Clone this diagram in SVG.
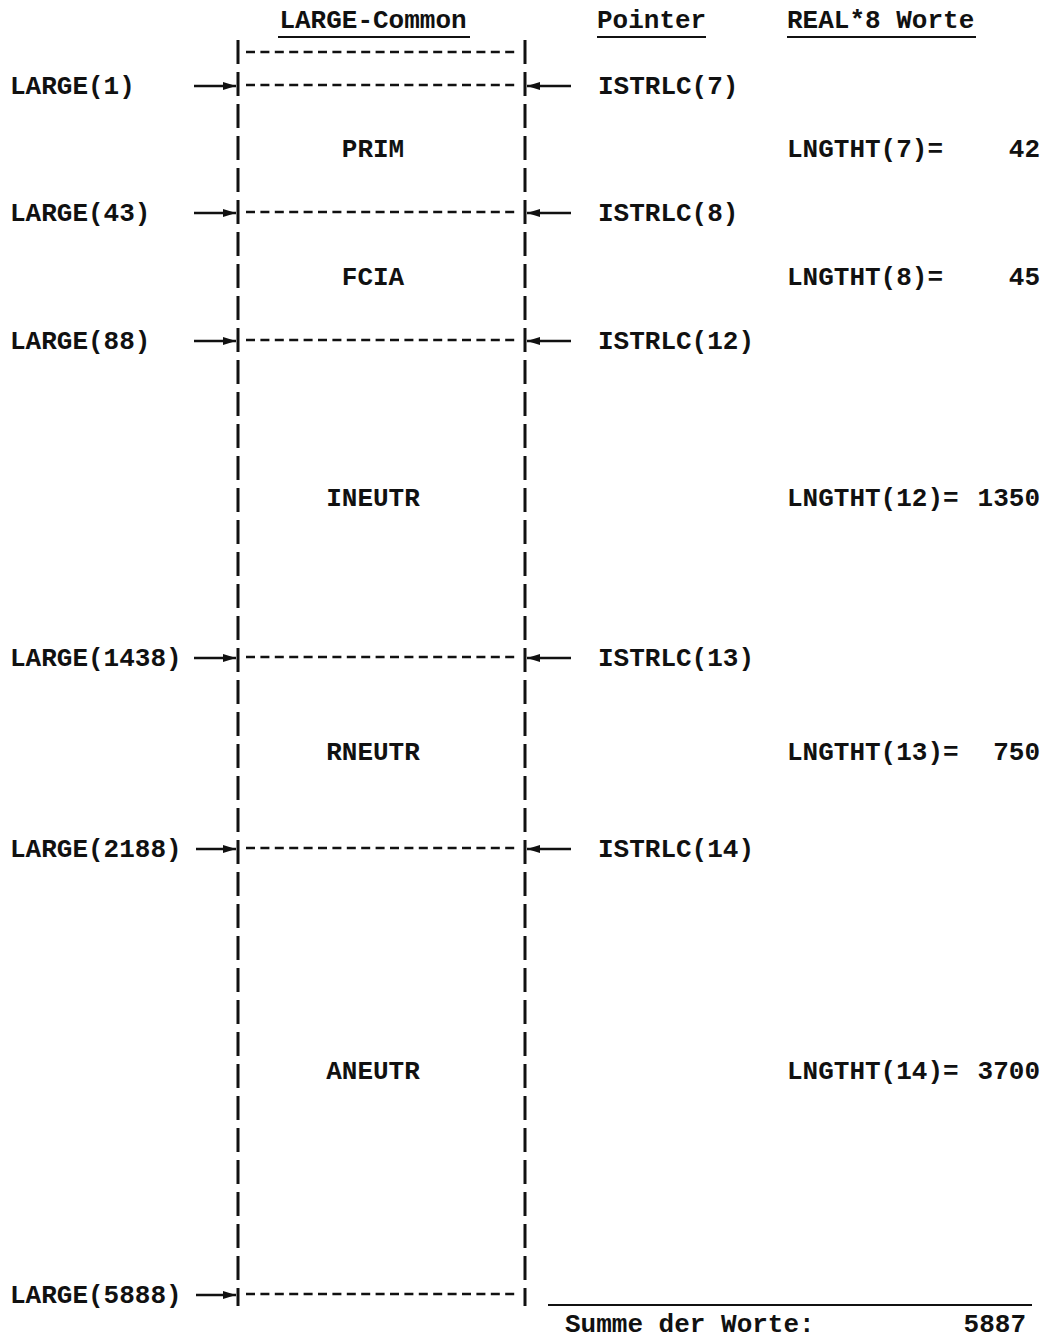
<svg xmlns="http://www.w3.org/2000/svg" width="1045" height="1338" viewBox="0 0 1045 1338">
<defs>
<style>
text{font-family:"Liberation Mono","DejaVu Sans Mono",monospace;font-size:26px;font-weight:bold;fill:#111}
.mid{text-anchor:middle}
.end{text-anchor:end}
.vl{stroke:#111;stroke-width:3;stroke-dasharray:24 8;fill:none}
.hl{stroke:#111;stroke-width:2.5;stroke-dasharray:9 5.4;fill:none}
.ar{stroke:#111;stroke-width:2.5;fill:none}
.ul{stroke:#111;stroke-width:2;fill:none}
</style>
<marker id="ah" markerWidth="14" markerHeight="10" refX="13" refY="5" orient="auto" markerUnits="userSpaceOnUse">
<path d="M0,1 L13,5 L0,9 Z" fill="#111"/>
</marker>
</defs>
<rect width="1045" height="1338" fill="#fff"/>
<g id="headers">
<text x="373" y="28" class="mid">LARGE-Common</text>
<line x1="278" y1="37" x2="470" y2="37" class="ul"/>
<text x="597" y="28">Pointer</text>
<line x1="597" y1="37" x2="706" y2="37" class="ul"/>
<text x="787" y="28">REAL*8 Worte</text>
<line x1="787" y1="37" x2="976" y2="37" class="ul"/>
</g>
<g id="box">
<line x1="238" y1="40" x2="238" y2="1306" class="vl"/>
<line x1="525" y1="40" x2="525" y2="1306" class="vl"/>
<line x1="246" y1="52" x2="518" y2="52" class="hl"/>
<line x1="246" y1="85" x2="518" y2="85" class="hl"/>
<line x1="246" y1="212" x2="518" y2="212" class="hl"/>
<line x1="246" y1="340" x2="518" y2="340" class="hl"/>
<line x1="246" y1="657" x2="518" y2="657" class="hl"/>
<line x1="246" y1="848" x2="518" y2="848" class="hl"/>
<line x1="246" y1="1294" x2="518" y2="1294" class="hl"/>
</g>
<g id="node-prim"><text x="373" y="157" class="mid">PRIM</text></g>
<g id="node-fcia"><text x="373" y="285" class="mid">FCIA</text></g>
<g id="node-ineutr"><text x="373" y="506" class="mid">INEUTR</text></g>
<g id="node-rneutr"><text x="373" y="760" class="mid">RNEUTR</text></g>
<g id="node-aneutr"><text x="373" y="1079" class="mid">ANEUTR</text></g>
<g id="left-labels">
<text x="10" y="94">LARGE(1)</text>
<text x="10" y="221">LARGE(43)</text>
<text x="10" y="349">LARGE(88)</text>
<text x="10" y="666">LARGE(1438)</text>
<text x="10" y="857">LARGE(2188)</text>
<text x="10" y="1303">LARGE(5888)</text>
</g>
<g id="right-labels">
<text x="598" y="94">ISTRLC(7)</text>
<text x="598" y="221">ISTRLC(8)</text>
<text x="598" y="349">ISTRLC(12)</text>
<text x="598" y="666">ISTRLC(13)</text>
<text x="598" y="857">ISTRLC(14)</text>
</g>
<g id="lengths">
<text x="787" y="157">LNGTHT(7)=</text><text x="1040" y="157" class="end">42</text>
<text x="787" y="285">LNGTHT(8)=</text><text x="1040" y="285" class="end">45</text>
<text x="787" y="506">LNGTHT(12)=</text><text x="1040" y="506" class="end">1350</text>
<text x="787" y="760">LNGTHT(13)=</text><text x="1040" y="760" class="end">750</text>
<text x="787" y="1079">LNGTHT(14)=</text><text x="1040" y="1079" class="end">3700</text>
</g>
<g id="connectors">
<line x1="194" y1="86" x2="236" y2="86" class="ar" marker-end="url(#ah)"/>
<line x1="194" y1="213" x2="236" y2="213" class="ar" marker-end="url(#ah)"/>
<line x1="194" y1="341" x2="236" y2="341" class="ar" marker-end="url(#ah)"/>
<line x1="194" y1="658" x2="236" y2="658" class="ar" marker-end="url(#ah)"/>
<line x1="196" y1="849" x2="236" y2="849" class="ar" marker-end="url(#ah)"/>
<line x1="196" y1="1295" x2="236" y2="1295" class="ar" marker-end="url(#ah)"/>
<line x1="571" y1="86" x2="527" y2="86" class="ar" marker-end="url(#ah)"/>
<line x1="571" y1="213" x2="527" y2="213" class="ar" marker-end="url(#ah)"/>
<line x1="571" y1="341" x2="527" y2="341" class="ar" marker-end="url(#ah)"/>
<line x1="571" y1="658" x2="527" y2="658" class="ar" marker-end="url(#ah)"/>
<line x1="571" y1="849" x2="527" y2="849" class="ar" marker-end="url(#ah)"/>
</g>
<g id="sum">
<line x1="548" y1="1305" x2="1032" y2="1305" class="ul"/>
<text x="565" y="1332">Summe der Worte:</text>
<text x="1026" y="1332" class="end">5887</text>
</g>
</svg>
